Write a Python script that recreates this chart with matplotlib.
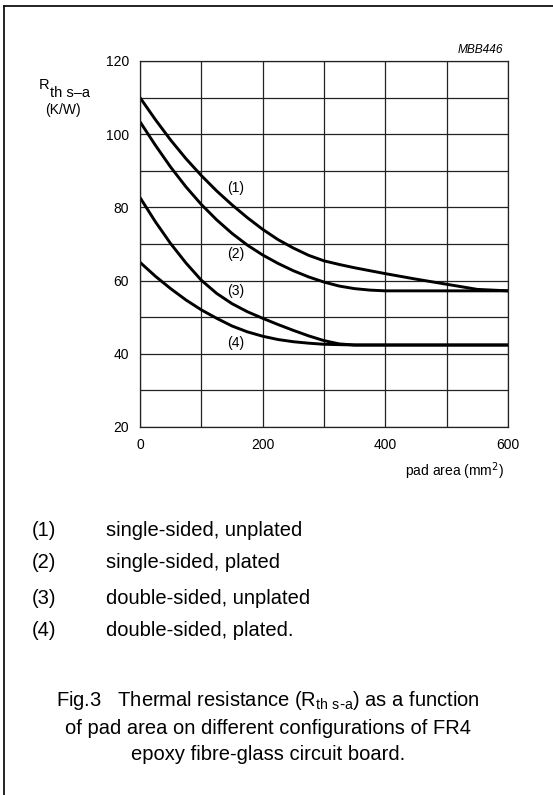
import matplotlib
matplotlib.use("Agg")
import matplotlib.pyplot as plt
from matplotlib.lines import Line2D

matplotlib.rcParams['font.family'] = ['Liberation Sans', 'DejaVu Sans']

pad_area = [0, 25, 50, 75, 100, 125, 150, 175, 200, 225, 250, 275, 300,
            325, 350, 375, 400, 450, 500, 550, 600]

# Rth s-a (K/W)
single_unplated = [110.0, 104.0, 98.4, 93.3, 88.7, 84.5, 80.7, 77.2, 74.0, 71.2, 68.9, 66.9, 65.4,
                   64.4, 63.5, 62.7, 61.9, 60.4, 59.0, 57.6, 57.2]
single_plated = [103.4, 97.0, 91.0, 85.6, 80.8, 76.6, 72.9, 69.7, 67.0, 64.7, 62.7, 61.0, 59.6,
                 58.5, 57.8, 57.4, 57.2, 57.2, 57.2, 57.2, 57.2]
double_unplated = [82.7, 76.1, 70.1, 64.8, 60.1, 56.5, 53.7, 51.5, 49.7, 48.0, 46.4, 44.9, 43.6,
                   42.7, 42.4, 42.4, 42.4, 42.4, 42.4, 42.4, 42.4]
double_plated = [65.0, 61.2, 57.8, 54.7, 52.0, 49.7, 47.6, 46.0, 44.8, 43.9, 43.3, 42.9, 42.6,
                 42.5, 42.4, 42.4, 42.4, 42.4, 42.4, 42.4, 42.4]

curves = [single_unplated, single_plated, double_unplated, double_plated]
curve_tags = ["(1)", "(2)", "(3)", "(4)"]
# where the tags sit (data coords)
tag_x = [156, 156, 156, 156]
tag_y = [85.3, 67.3, 57.2, 42.9]

x_ticks = [0, 100, 200, 300, 400, 500, 600]
x_labels = ["0", "", "200", "", "400", "", "600"]
y_ticks = [20, 30, 40, 50, 60, 70, 80, 90, 100, 110, 120]
y_labels = ["20", "", "40", "", "60", "", "80", "", "100", "", "120"]

legend_text = ["single-sided, unplated", "single-sided, plated",
               "double-sided, unplated", "double-sided, plated."]

W, H = 553, 795


def fx(px):
    return px / W


def fy(py):
    return 1 - py / H


fig = plt.figure(figsize=(W / 100, H / 100), dpi=100)
fig.patch.set_facecolor('white')

# outer frame (only left and top edges are visible in the scan)
fig.add_artist(Line2D([fx(4), fx(4)], [fy(5.5), fy(800)], transform=fig.transFigure,
                      color='#111', lw=1.3))
fig.add_artist(Line2D([fx(4), fx(560)], [fy(5.5), fy(5.5)], transform=fig.transFigure,
                      color='#111', lw=1.3))

ax = fig.add_axes([fx(140), fy(427), fx(508) - fx(140), fy(61) - fy(427)])

for vals in curves:
    ax.plot(pad_area, vals, color='black', lw=2.1, solid_capstyle='butt',
            solid_joinstyle='round')

for t, x, y in zip(curve_tags, tag_x, tag_y):
    ax.text(x, y, t, fontsize=10, ha='center', va='center')

ax.set_xlim(0, 600)
ax.set_ylim(20, 120)
ax.set_xticks(x_ticks)
ax.set_xticklabels(x_labels)
ax.set_yticks(y_ticks)
ax.set_yticklabels(y_labels)
ax.tick_params(length=0, labelsize=10, pad=8)
ax.grid(True, color='#222', lw=0.9)
for s in ax.spines.values():
    s.set_color('#222')
    s.set_linewidth(0.9)

# axis labels
fig.text(fx(39), fy(85), "R", fontsize=10.5, ha='left', va='center')
fig.text(fx(50), fy(93), "th s\u2013a", fontsize=10.5, ha='left', va='center')
fig.text(fx(63), fy(110), "(K/W)", fontsize=10, ha='center', va='center')
fig.text(fx(503.5), fy(471), "pad area (mm$^2$)", fontsize=10, ha='right', va='center')
fig.text(fx(503.5), fy(50), "MBB446", fontsize=8.6, style='italic', ha='right', va='center')

# legend block
leg_y = [531, 563, 598, 631]
for t, txt, y in zip(curve_tags, legend_text, leg_y):
    fig.text(fx(31.5), fy(y), t, fontsize=14.5, ha='left', va='center')
    fig.text(fx(106), fy(y), txt, fontsize=14.5, ha='left', va='center')

# caption
cap = [r"Fig.3   Thermal resistance (R$_{\mathregular{th\ s\text{-}a}}$) as a function",
       "of pad area on different configurations of FR4",
       "epoxy fibre-glass circuit board."]
cap_y = [701, 728, 755]
for c, y in zip(cap, cap_y):
    fig.text(fx(268), fy(y), c, fontsize=14.5, ha='center', va='center')

plt.savefig("out.png", dpi=100)
